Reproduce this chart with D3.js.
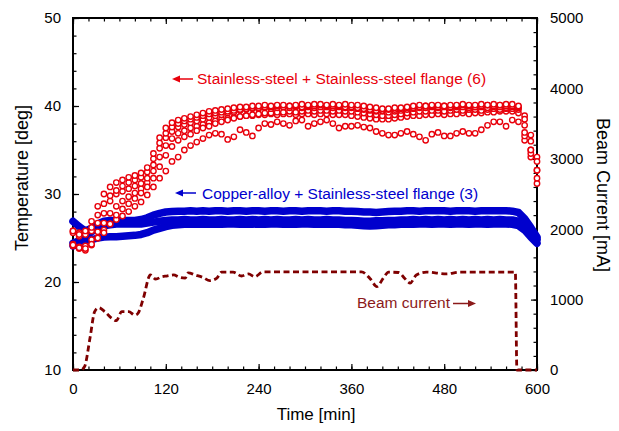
<!DOCTYPE html>
<html>
<head>
<meta charset="utf-8">
<script src="https://cdn.jsdelivr.net/npm/d3@7"></script>
<style>
body{margin:0;background:#fff;}
text{font-family:"Liberation Sans",Arial,sans-serif;font-weight:normal;}
</style>
</head>
<body>
<script>
(function(){

//temperature samples are taken every 8 minutes, from 0 to 600
var sampleStep = 8;

//stainless-steel + stainless-steel flange (6 thermometers) [deg]
var ss1 = [25.8,25.4,25.8,26.9,28.6,30.0,30.8,31.3,31.6,31.9,
           32.1,32.4,33.0,34.6,36.4,37.5,38.1,38.4,38.6,38.8,
           39.0,39.2,39.4,39.5,39.6,39.7,39.8,39.9,39.9,40.0,
           40.0,40.1,40.0,40.1,40.1,40.0,40.1,40.2,40.1,40.2,
           40.2,40.1,40.2,40.1,40.2,40.1,40.1,40.0,39.9,39.8,
           39.7,39.7,39.8,39.8,39.9,40.0,40.1,40.0,40.1,40.1,
           40.0,40.1,40.1,40.2,40.1,40.1,40.2,40.1,40.2,40.1,
           40.2,40.2,40.0,38.5,36.0,33.7];
var ss2 = [25.8,25.6,25.5,25.8,26.7,27.8,29.2,30.0,30.3,30.6,
           30.9,31.2,31.8,33.3,35.2,36.4,37.1,37.6,37.9,38.1,
           38.3,38.5,38.7,38.9,39.0,39.2,39.3,39.5,39.6,39.7,
           39.7,39.8,39.7,39.8,39.9,39.8,39.9,39.8,39.9,39.8,
           39.9,39.9,39.8,39.9,39.8,39.8,39.7,39.6,39.5,39.4,
           39.4,39.3,39.4,39.5,39.6,39.7,39.8,39.8,39.9,39.8,
           39.9,39.8,39.9,39.9,39.8,39.9,39.9,39.8,39.9,39.9,
           39.8,39.9,39.8,37.8,35.0,32.7];
var ss3 = [24.2,23.9,23.8,24.3,25.0,25.6,26.6,27.6,28.3,28.9,
           29.5,30.1,30.8,31.8,33.1,34.4,35.4,36.1,36.5,36.8,
           37.2,37.5,37.7,38.0,38.2,38.4,38.6,38.8,38.9,39.0,
           39.1,39.2,39.2,39.3,39.3,39.4,39.3,39.4,39.5,39.4,
           39.5,39.5,39.4,39.5,39.4,39.4,39.3,39.2,39.1,39.0,
           38.9,38.9,39.0,39.1,39.2,39.3,39.4,39.4,39.5,39.5,
           39.4,39.5,39.6,39.5,39.6,39.6,39.5,39.6,39.7,39.6,
           39.7,39.7,39.6,37.0,34.6,31.8];
var ss4 = [25.6,25.2,25.4,26.2,27.6,28.9,29.8,30.4,30.9,31.3,
           31.6,31.9,32.5,34.0,35.8,36.9,37.6,38.0,38.3,38.5,
           38.7,38.9,39.1,39.2,39.3,39.4,39.5,39.6,39.7,39.8,
           39.8,39.9,39.9,40.0,39.9,40.0,40.0,39.9,40.0,40.0,
           40.1,40.0,40.0,40.0,39.9,39.9,39.8,39.7,39.6,39.5,
           39.5,39.6,39.6,39.7,39.8,39.8,39.9,40.0,40.0,39.9,
           40.0,39.9,40.0,40.1,40.0,39.9,40.0,40.1,40.0,40.1,
           40.0,40.0,39.9,38.9,36.7,34.2];
var ss5 = [24.3,24.0,24.1,24.8,25.7,26.7,27.8,28.6,29.2,29.7,
           30.1,30.6,31.3,32.6,34.2,35.5,36.3,36.9,37.2,37.5,
           37.7,37.9,38.1,38.3,38.5,38.6,38.7,38.8,38.9,38.9,
           39.0,39.0,39.1,39.0,39.1,39.1,39.0,39.1,39.1,39.0,
           39.1,39.1,39.0,39.0,39.0,38.9,38.8,38.7,38.6,38.5,
           38.5,38.5,38.6,38.7,38.8,38.9,38.9,39.0,39.0,39.1,
           39.0,39.1,39.1,39.2,39.1,39.2,39.2,39.3,39.3,39.4,
           39.4,39.4,39.2,36.6,34.2,31.2];
var ss6 = [24.1,23.8,23.6,24.2,25.0,25.9,26.6,27.1,27.5,28.0,
           28.6,29.1,29.9,30.8,31.8,32.6,33.7,34.2,35.0,35.5,
           35.9,36.3,36.7,36.9,36.8,36.2,36.5,37.3,37.0,36.6,
           37.5,38.0,37.9,38.2,38.0,37.8,38.3,38.4,37.7,38.0,
           38.2,38.4,38.0,37.5,37.7,37.7,37.8,37.6,37.5,37.1,
           36.9,36.7,36.7,36.9,37.1,36.8,36.5,36.1,36.8,37.0,
           36.6,36.6,36.9,37.1,36.9,36.9,37.3,37.8,38.2,38.2,
           37.7,38.4,38.2,36.1,35.0,32.7];

//copper-alloy + stainless-steel flange (3 thermometers) [deg]
var cu1 = [26.9,26.3,25.8,26.1,26.6,26.9,27.0,27.0,27.0,27.0,
           27.0,27.1,27.3,27.6,27.8,27.95,28.0,28.05,28.05,28.1,
           28.05,28.1,28.05,28.1,28.1,28.05,28.1,28.1,28.05,28.1,
           28.1,28.05,28.1,28.1,28.05,28.1,28.1,28.05,28.1,28.1,
           28.1,28.05,28.1,28.1,28.05,28.05,28.0,27.95,27.95,27.9,
           27.95,28.0,28.05,28.05,28.1,28.1,28.05,28.1,28.1,28.1,
           28.1,28.05,28.1,28.1,28.1,28.05,28.1,28.1,28.1,28.1,
           28.1,28.05,27.9,27.2,26.2,25.1];
var cu2 = [24.4,24.7,25.2,25.7,26.1,26.4,26.5,26.6,26.6,26.6,
           26.6,26.6,26.7,26.8,26.9,27.0,27.05,27.05,27.1,27.05,
           27.05,27.1,27.05,27.05,27.1,27.05,27.05,27.1,27.05,27.1,
           27.05,27.1,27.05,27.1,27.05,27.05,27.1,27.05,27.1,27.05,
           27.05,27.1,27.05,27.05,27.0,27.0,26.95,26.9,26.9,26.95,
           26.95,27.0,27.0,27.05,27.05,27.1,27.05,27.1,27.05,27.1,
           27.05,27.1,27.05,27.1,27.05,27.1,27.05,27.1,27.05,27.1,
           27.05,27.05,26.9,26.3,25.5,24.8];
var cu3 = [24.1,24.3,24.6,24.8,25.0,25.1,25.15,25.15,25.2,25.25,
           25.3,25.4,25.6,25.9,26.1,26.3,26.45,26.5,26.55,26.55,
           26.55,26.6,26.55,26.6,26.55,26.6,26.6,26.55,26.6,26.55,
           26.6,26.55,26.6,26.6,26.55,26.6,26.55,26.6,26.6,26.55,
           26.6,26.55,26.6,26.55,26.5,26.5,26.45,26.4,26.35,26.4,
           26.45,26.5,26.5,26.55,26.6,26.55,26.6,26.6,26.55,26.6,
           26.6,26.55,26.6,26.6,26.55,26.6,26.6,26.55,26.6,26.6,
           26.6,26.55,26.4,25.9,25.1,24.4];

//beam current [mA] (right axis)
var beamTime = [0,10,15,22,28,33,41,50,56,63,72,80,84,91,100,107,115,121,130,138,
                145,149,158,168,177,186,192,207,218,227,235,246,373,384,393,401,408,421,429,436,
                444,457,483,500,572,574,600];
var beamCurrent = [0,0,50,455,830,885,830,735,700,830,830,780,805,1020,1350,1290,1325,1335,1350,1315,
                   1305,1380,1350,1315,1270,1305,1390,1390,1335,1365,1325,1395,1395,1300,1185,1300,1390,1385,1300,1235,
                   1350,1390,1365,1390,1390,0,0];

//tick labels
var timeTicks = [0,120,240,360,480,600];
var tempTicks = [10,20,30,40,50];
var beamTicks = [0,1000,2000,3000,4000,5000];

var ssSeries = [ss6,ss5,ss3,ss2,ss4,ss1];
var cuSeries = [cu3,cu2,cu1];

var width = 619,
    height = 431;
var margin = {top:18, right:82, bottom:61, left:73};

var red = "#e8000b",
    blue = "#0000cd",
    maroon = "#7f0000";

var font = "'Liberation Sans',Arial,sans-serif";

var svg = d3.select("body")
    .append("svg")
    .attr("width", width)
    .attr("height", height);

var x = d3.scaleLinear()
    .domain([0,600])
    .range([margin.left, width - margin.right]);
var yTemp = d3.scaleLinear()
    .domain([10,50])
    .range([height - margin.bottom, margin.top]);
var yBeam = d3.scaleLinear()
    .domain([0,5000])
    .range([height - margin.bottom, margin.top]);

var bottomY = height - margin.bottom,
    rightX = width - margin.right;

//inward ticks on all four sides
function styleAxis(g){
    g.select(".domain").remove();
    g.selectAll(".tick line").attr("stroke","#000").attr("stroke-width",1.2);
    g.selectAll(".tick text").attr("fill","#000").style("font-size","15px")
        .style("font-family",font);
}

svg.append("g").attr("transform","translate(0,"+bottomY+")")
    .call(d3.axisBottom(x).tickValues(d3.range(0,601,20)).tickSize(-3.5).tickFormat(""))
    .call(styleAxis);
svg.append("g").attr("transform","translate(0,"+bottomY+")")
    .call(d3.axisBottom(x).tickValues(timeTicks).tickSize(-6).tickPadding(13))
    .call(styleAxis);
svg.append("g").attr("transform","translate(0,"+margin.top+")")
    .call(d3.axisTop(x).tickValues(d3.range(0,601,20)).tickSize(-3.5).tickFormat(""))
    .call(styleAxis);
svg.append("g").attr("transform","translate(0,"+margin.top+")")
    .call(d3.axisTop(x).tickValues(timeTicks).tickSize(-6).tickFormat(""))
    .call(styleAxis);
svg.append("g").attr("transform","translate("+margin.left+",0)")
    .call(d3.axisLeft(yTemp).tickValues(d3.range(10,51,2)).tickSize(-3.5).tickFormat(""))
    .call(styleAxis);
svg.append("g").attr("transform","translate("+margin.left+",0)")
    .call(d3.axisLeft(yTemp).tickValues(tempTicks).tickSize(-6).tickPadding(12))
    .call(styleAxis);
svg.append("g").attr("transform","translate("+rightX+",0)")
    .call(d3.axisRight(yBeam).tickValues(d3.range(0,5001,200)).tickSize(-3.5).tickFormat(""))
    .call(styleAxis);
svg.append("g").attr("transform","translate("+rightX+",0)")
    .call(d3.axisRight(yBeam).tickValues(beamTicks).tickSize(-6).tickPadding(13).tickFormat(d3.format("d")))
    .call(styleAxis);

//plot frame
svg.append("rect")
    .attr("x", margin.left)
    .attr("y", margin.top)
    .attr("width", rightX - margin.left)
    .attr("height", bottomY - margin.top)
    .attr("fill","none")
    .attr("stroke","#000")
    .attr("stroke-width",2);

//copper-alloy series: dense filled markers, drawn as thick lines
var tempLine = d3.line()
    .x(function(d,i){ return x(i*sampleStep); })
    .y(function(d){ return yTemp(d); });

svg.selectAll(".cu")
    .data(cuSeries)
    .enter()
    .append("path")
    .attr("class","cu")
    .attr("d", tempLine)
    .attr("fill","none")
    .attr("stroke", blue)
    .attr("stroke-width", 7.5)
    .attr("stroke-linejoin","round")
    .attr("stroke-linecap","round");

//stainless-steel series: open circles
var ss = svg.selectAll(".ss")
    .data(ssSeries)
    .enter()
    .append("g")
    .attr("class","ss");

ss.selectAll("circle")
    .data(function(d){ return d; })
    .enter()
    .append("circle")
    .attr("cx", function(d,i){ return x(i*sampleStep); })
    .attr("cy", function(d){ return yTemp(d); })
    .attr("r", 2.7)
    .attr("fill","#fff")
    .attr("stroke", red)
    .attr("stroke-width", 1.4);

//beam current, dashed, right axis
var beamLine = d3.line()
    .x(function(d){ return x(d[0]); })
    .y(function(d){ return yBeam(d[1]); })
    .curve(d3.curveMonotoneX);

svg.append("path")
    .datum(d3.zip(beamTime, beamCurrent))
    .attr("d", beamLine)
    .attr("fill","none")
    .attr("stroke", maroon)
    .attr("stroke-width", 2.8)
    .attr("stroke-dasharray","6,3.5");

//annotations
function arrow(x1, y1, x2, y2, color){
    var dir = x2 > x1 ? 1 : -1;
    svg.append("line")
        .attr("x1",x1).attr("y1",y1)
        .attr("x2",x2 - dir*5).attr("y2",y2)
        .attr("stroke",color).attr("stroke-width",1.5);
    svg.append("path")
        .attr("d","M"+x2+","+y2+"L"+(x2-dir*8)+","+(y2-3.5)+"L"+(x2-dir*8)+","+(y2+3.5)+"Z")
        .attr("fill",color);
}

function note(tx, ty, label, color){
    svg.append("text")
        .attr("x",tx).attr("y",ty)
        .attr("fill",color)
        .style("font-family",font)
        .style("font-weight","normal")
        .style("font-size","15.5px")
        .text(label);
}

arrow(193, 79, 172, 79, red);
note(197, 84, "Stainless-steel + Stainless-steel flange (6)", red);
arrow(196, 193, 175, 193, blue);
note(202, 198.5, "Copper-alloy + Stainless-steel flange (3)", blue);
note(357, 308, "Beam current", "#8b1a1a");
arrow(453, 303.5, 476, 303.5, "#8b1a1a");

//axis titles
function title(transform, label, size){
    svg.append("text")
        .attr("transform", transform)
        .attr("text-anchor","middle")
        .attr("fill","#000")
        .style("font-family",font)
        .style("font-weight","normal")
        .style("font-size",size)
        .text(label);
}
title("translate(316,420)", "Time [min]", "17px");
title("translate(28,178) rotate(-90)", "Temperature [deg]", "18px");
title("translate(597,195) rotate(90)", "Beam Current [mA]", "18px");

})();
</script>
</body>
</html>
